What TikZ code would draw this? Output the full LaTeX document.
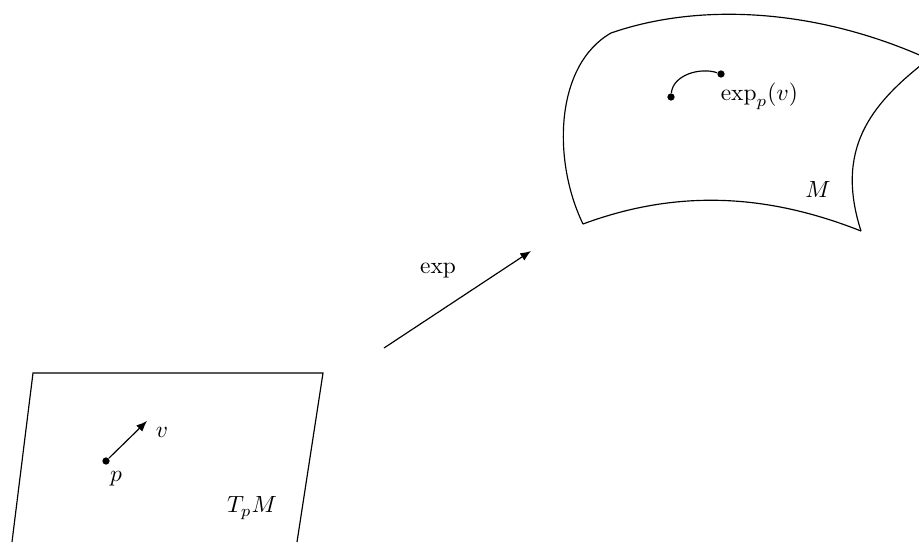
\documentclass[tikz,border=0pt]{standalone}
\usepackage{tikz}
\usetikzlibrary{positioning,calc,arrows.meta}
\tikzset{
  pt/.style={
    circle,
    fill,
    inner sep = 1.1pt
  },
  lbl/.style={
    inner sep = 1pt
  },
  edge/.style={
    line width = 0.5pt
  },
  tip/.style={
    -{Latex[length=1.6mm,width=1.3mm]}
  }
}

\begin{document}
\begin{tikzpicture}[x=0.015cm,y=-0.015cm]
    \useasboundingbox (0,0) rectangle (919,542);
    % tangent plane
    \draw[edge] (12,542) -- (33,373) -- (323,373) -- (297,542);
    \node[pt] (p) at (106,461) {};
    \coordinate (vtip) at (147,421);
    \draw[edge, tip] (p) -- (vtip);
    \node[lbl] (plbl) at (116,479) {$p$};
    \node[lbl] (vlbl) at (162,432) {$v$};
    \node[lbl] (TpM) at (252,508) {$T_pM$};
    % the map
    \coordinate (expA) at (384,348);
    \coordinate (expB) at (531,251);
    \draw[edge, tip] (expA) -- (expB);
    \node[lbl] (explbl) at (438,271) {$\exp$};
    % the manifold
    \draw[edge] (583,224)
      .. controls (552,160) and (555,65) .. (611,33)
      .. controls (700,2) and (820,8) .. (935,62);
    \draw[edge] (925,62)
      .. controls (870,105) and (835,150) .. (861,231);
    \draw[edge] (583,224)
      .. controls (680,188) and (770,195) .. (861,231);
    \node[pt] (q) at (671,97) {};
    \node[pt] (expv) at (721,74) {};
    \draw[edge] (q) .. controls (673,75) and (700,67) .. (expv);
    \node[lbl, anchor=west] (expvlbl) at (718,96) {$\exp_p(v)$};
    \node[lbl] (Mlbl) at (818,189) {$M$};
\end{tikzpicture}
\end{document}
